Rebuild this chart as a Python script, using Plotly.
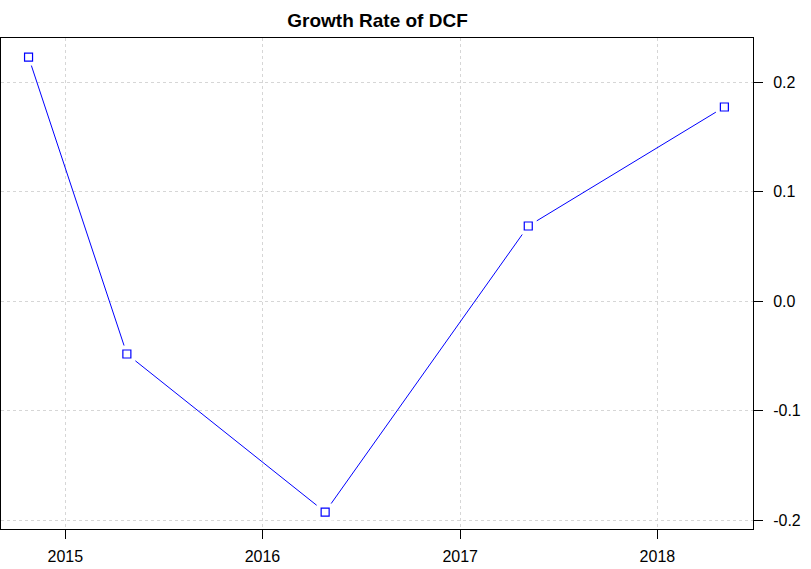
import plotly.graph_objects as go

# Growth rate of DCF by report date
dates = ["2014-10-25", "2015-04-25", "2016-04-26", "2017-05-07", "2018-05-05"]
growth = [0.2228, -0.0484, -0.1927, 0.0685, 0.1772]

fig = go.Figure()
fig.add_trace(go.Scatter(x=dates, y=growth, mode="lines",
                         line=dict(color="blue", width=1), hoverinfo="skip"))
# white pads so the line stops short of each point (R type="b" look)
fig.add_trace(go.Scatter(x=dates, y=growth, mode="markers",
                         marker=dict(symbol="square", size=17, color="white",
                                     line=dict(width=0)), hoverinfo="skip"))
fig.add_trace(go.Scatter(x=dates, y=growth, mode="markers",
                         marker=dict(symbol="square-open", size=8, color="blue",
                                     line=dict(width=1.2))))

fig.update_layout(
    width=811, height=569,
    margin=dict(l=1, r=58, t=38, b=40, autoexpand=False),
    paper_bgcolor="white", plot_bgcolor="white",
    showlegend=False,
    font=dict(family="Liberation Sans, Arial", size=16, color="black"),
    title=dict(text="<b>Growth Rate of DCF</b>", x=0.4655, xanchor="center",
               y=0.965, yanchor="middle", font=dict(size=19)),
)
fig.update_xaxes(
    range=["2014-09-04", "2018-06-27"], automargin=False,
    tickvals=["2015-01-01", "2016-01-01", "2017-01-01", "2018-01-01"],
    ticktext=["2015", "2016", "2017", "2018"],
    ticks="outside", ticklen=9, tickcolor="black", ticklabelstandoff=4,
    showline=True, linecolor="black", linewidth=1, mirror=True,
    showgrid=True, gridcolor="#d6d6d6", griddash="dot", gridwidth=1,
    zeroline=False,
)
fig.update_yaxes(
    side="right", range=[-0.2082, 0.2402], automargin=False,
    tickvals=[-0.2, -0.1, 0.0, 0.1, 0.2],
    ticktext=["-0.2", "-0.1", "0.0", "0.1", "0.2"],
    ticks="outside", ticklen=9, tickcolor="black", ticklabelstandoff=7,
    showline=True, linecolor="black", linewidth=1, mirror=True,
    showgrid=True, gridcolor="#d6d6d6", griddash="dot", gridwidth=1,
    zeroline=False,
)

# drop the browser's default page margin so the figure sits at (0, 0)
fig.write_html("out.html", config={"displayModeBar": False},
               post_script="document.body.style.margin='0px';")
